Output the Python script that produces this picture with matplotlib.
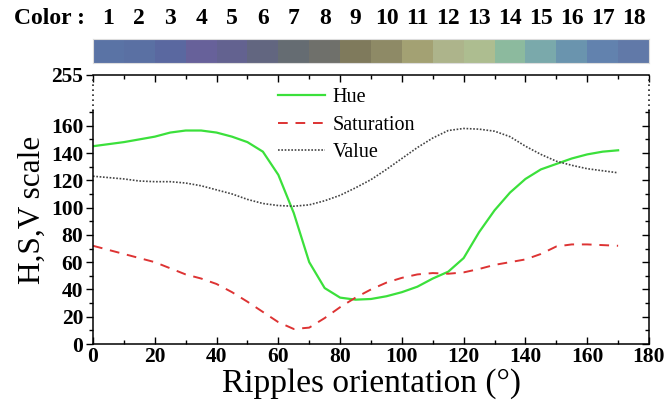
import matplotlib
matplotlib.use('Agg')
import matplotlib.pyplot as plt
import numpy as np
from matplotlib.colors import ListedColormap

# values
angle = [0, 5, 10, 15, 20, 25, 30, 35, 40, 45, 50, 55, 60, 65, 70, 75, 80, 85,
         90, 95, 100, 105, 110, 115, 120, 125, 130, 135, 140, 145, 150, 155,
         160, 165, 170]
hue = [145, 146.5, 148, 150, 152, 155, 156.5, 156.5, 155, 152, 148, 141, 124,
       96, 60, 41, 34, 32.5, 33, 35, 38, 42, 48, 53, 63, 82, 98, 111, 121,
       128, 132, 136, 139, 141, 142]
saturation = [72, 69, 66, 63, 60, 55.5, 51, 48, 44, 38, 31, 23.5, 16, 11, 12,
              19, 27, 34, 40, 45, 48.5, 51, 52, 51.5, 52.5, 55, 58, 60, 62, 66,
              71.5, 73, 73, 72.5, 72]
value = [123, 122, 121, 119.5, 119, 119, 118, 116, 113, 110, 106, 103, 101.5,
         101, 102, 105, 109, 114.5, 120.5, 128, 136, 144, 151, 156.5, 158,
         157.5, 156, 152, 145, 139, 134, 131, 128.5, 127, 125.5]

color_labels = [str(i) for i in range(1, 19)]
swatches = ['#5a73a5', '#5a70a3', '#5a68a0', '#67619a', '#636290', '#626680',
            '#656c72', '#6f706b', '#7f7a5c', '#8e8a66', '#a3a173', '#adb48b',
            '#adbd90', '#8cba9e', '#7aa9ab', '#6a94ae', '#6282ae', '#6179a8']

BRK = 170.0
K = 0.32


def fwd(y):
    y = np.asarray(y, dtype=float)
    return np.where(y <= BRK, y, BRK + (y - BRK) * K)


def inv(y):
    y = np.asarray(y, dtype=float)
    return np.where(y <= BRK, y, BRK + (y - BRK) / K)


plt.rcParams['font.family'] = ['Liberation Serif', 'DejaVu Serif']

fig = plt.figure(figsize=(6.64, 4.07), dpi=100)
L, R = 93 / 664, 649 / 664
B, T = 1 - 344 / 407, 1 - 75 / 407
ax = fig.add_axes([L, B, R - L, T - B])

ax.plot(angle, hue, color='#3be03b', lw=1.6, label='Hue')
ax.plot(angle, saturation, color='#dd3333', lw=1.4, ls=(0, (5, 4)), label='Saturation')
ax.plot(angle, value, color='#444444', lw=1.2, ls=(0, (1, 1)), label='Value')

ax.set_yscale('function', functions=(fwd, inv))
ax.set_xlim(0, 180)
ax.set_ylim(0, 255)
ax.set_xticks(np.arange(0, 181, 20))
ax.set_xticks(np.arange(10, 180, 20), minor=True)
ax.set_yticks(list(range(0, 161, 20)) + [255])
ax.set_yticks(list(range(10, 171, 20)), minor=True)

for lab in ax.get_xticklabels() + ax.get_yticklabels():
    lab.set_fontweight('bold')
    lab.set_fontsize(15.5)

ax.tick_params(axis='x', which='both', direction='in', top=True, width=1)
ax.tick_params(axis='x', which='major', length=5)
ax.tick_params(axis='x', which='minor', length=3)
ax.tick_params(axis='y', which='both', direction='out', width=1)
ax.tick_params(axis='y', which='major', length=5)
ax.tick_params(axis='y', which='minor', length=3)
ax.tick_params(axis='both', pad=2)

# right axis ticks pointing inward
ax2 = ax.twinx()
ax2.set_yscale('function', functions=(fwd, inv))
ax2.set_ylim(0, 255)
ax2.set_yticks(list(range(0, 161, 20)))
ax2.set_yticks(list(range(10, 171, 20)), minor=True)
ax2.tick_params(axis='y', which='both', direction='in', labelright=False, width=1)
ax2.tick_params(axis='y', which='major', length=5)
ax2.tick_params(axis='y', which='minor', length=3)

# broken part of the side spines drawn dotted
for a in (ax, ax2):
    for s in a.spines.values():
        s.set_linewidth(1.1)
ax.spines['left'].set_bounds(0, 172)
ax2.spines['right'].set_bounds(0, 172)
ax2.spines['left'].set_visible(False)
ax2.spines['top'].set_visible(False)
ax2.spines['bottom'].set_visible(False)
ax.spines['right'].set_visible(False)
for xpos in (0, 180):
    ax.plot([xpos, xpos], [172, 255], color='#222222', lw=1.2,
            ls=(0, (1, 2)), clip_on=False)

ax.set_xlabel('Ripples orientation (°)', fontsize=24, labelpad=1)
ax.set_ylabel('H,S,V scale', fontsize=22.5, labelpad=3)

ax.legend(loc='upper left', bbox_to_anchor=(0.31, 1.0), frameon=False,
          fontsize=14.5, handlelength=2.3, handletextpad=0.4, labelspacing=0.42,
          borderaxespad=0.25)

# colour strip above the chart
cax = fig.add_axes([L, 1 - 63 / 407, R - L, 24 / 407])
cax.imshow(np.arange(len(swatches))[None, :], cmap=ListedColormap(swatches),
           aspect='auto', extent=(0, 180, 0, 1))
cax.set_xlim(0, 180)
cax.set_xticks([])
cax.set_yticks([])
for s in cax.spines.values():
    s.set_color('#dddddd')
    s.set_linewidth(0.8)

for i, lab in enumerate(color_labels):
    cax.text(i * 10 + 5, 1.85, lab, ha='center', va='center',
             fontsize=17, fontweight='bold')
fig.text(14 / 664, 1 - 18 / 407, 'Color :', ha='left', va='center',
         fontsize=17, fontweight='bold')

fig.savefig('out.png', dpi=100)
